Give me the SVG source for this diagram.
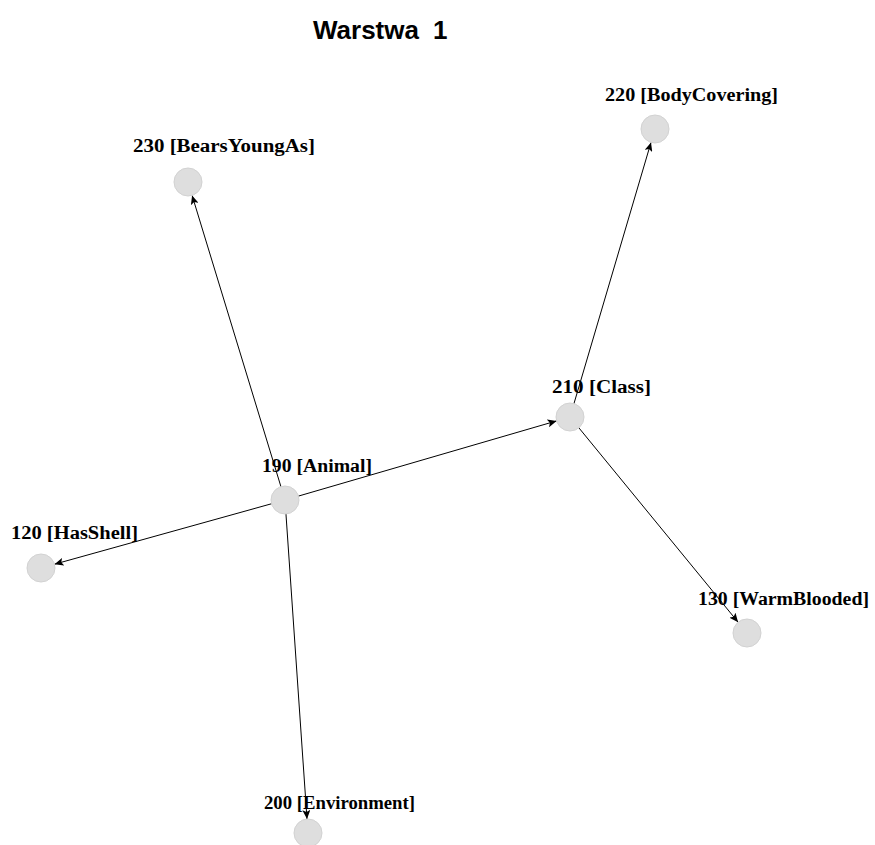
<svg xmlns="http://www.w3.org/2000/svg" width="875" height="845" viewBox="0 0 875 845">
<defs>
<style>
.title{font-family:"Liberation Sans",Arial,sans-serif;font-weight:bold;font-size:26px;fill:#000}
.lbl{font-family:"Liberation Serif","Times New Roman",serif;font-weight:bold;font-size:18px;fill:#000}
.node{fill:#dedede;stroke:#d2d2d2;stroke-width:1}
.edge{stroke:#000;stroke-width:1;fill:none;marker-end:url(#arr)}
</style>
<marker id="arr" markerUnits="userSpaceOnUse" markerWidth="10" markerHeight="8" refX="9" refY="4" orient="auto">
<path d="M0,0 L9,4 L0,8 L2,4 Z" fill="#000"/>
</marker>
</defs>
<rect width="875" height="845" fill="#fff"/>
<text class="title" x="313" y="39">Warstwa</text>
<text class="title" x="433" y="39">1</text>
<g id="connectors">
<line class="edge" x1="285" y1="500" x2="192.1" y2="195.4"/>
<line class="edge" x1="570" y1="417" x2="651.0" y2="142.4"/>
<line class="edge" x1="285" y1="500" x2="556.6" y2="420.9"/>
<line class="edge" x1="285" y1="500" x2="54.5" y2="564.2"/>
<line class="edge" x1="570" y1="417" x2="738.1" y2="622.2"/>
<line class="edge" x1="285" y1="500" x2="307.0" y2="819"/>
</g>
<g id="n230"><circle class="node" cx="188" cy="182" r="14"/><text class="lbl" x="133" y="152" textLength="182" lengthAdjust="spacingAndGlyphs">230 [BearsYoungAs]</text></g>
<g id="n220"><circle class="node" cx="655" cy="129" r="14"/><text class="lbl" x="605" y="101" textLength="173" lengthAdjust="spacingAndGlyphs">220 [BodyCovering]</text></g>
<g id="n210"><circle class="node" cx="570" cy="417" r="14"/><text class="lbl" x="552" y="393" textLength="99" lengthAdjust="spacingAndGlyphs">210 [Class]</text></g>
<g id="n190"><circle class="node" cx="285" cy="500" r="14"/><text class="lbl" x="262" y="472" textLength="110" lengthAdjust="spacingAndGlyphs">190 [Animal]</text></g>
<g id="n120"><circle class="node" cx="41" cy="568" r="14"/><text class="lbl" x="11" y="539" textLength="127" lengthAdjust="spacingAndGlyphs">120 [HasShell]</text></g>
<g id="n130"><circle class="node" cx="747" cy="633" r="14"/><text class="lbl" x="698" y="605" textLength="171" lengthAdjust="spacingAndGlyphs">130 [WarmBlooded]</text></g>
<g id="n200"><circle class="node" cx="308" cy="833" r="14"/><text class="lbl" x="264" y="809" textLength="151" lengthAdjust="spacingAndGlyphs">200 [Environment]</text></g>
</svg>
